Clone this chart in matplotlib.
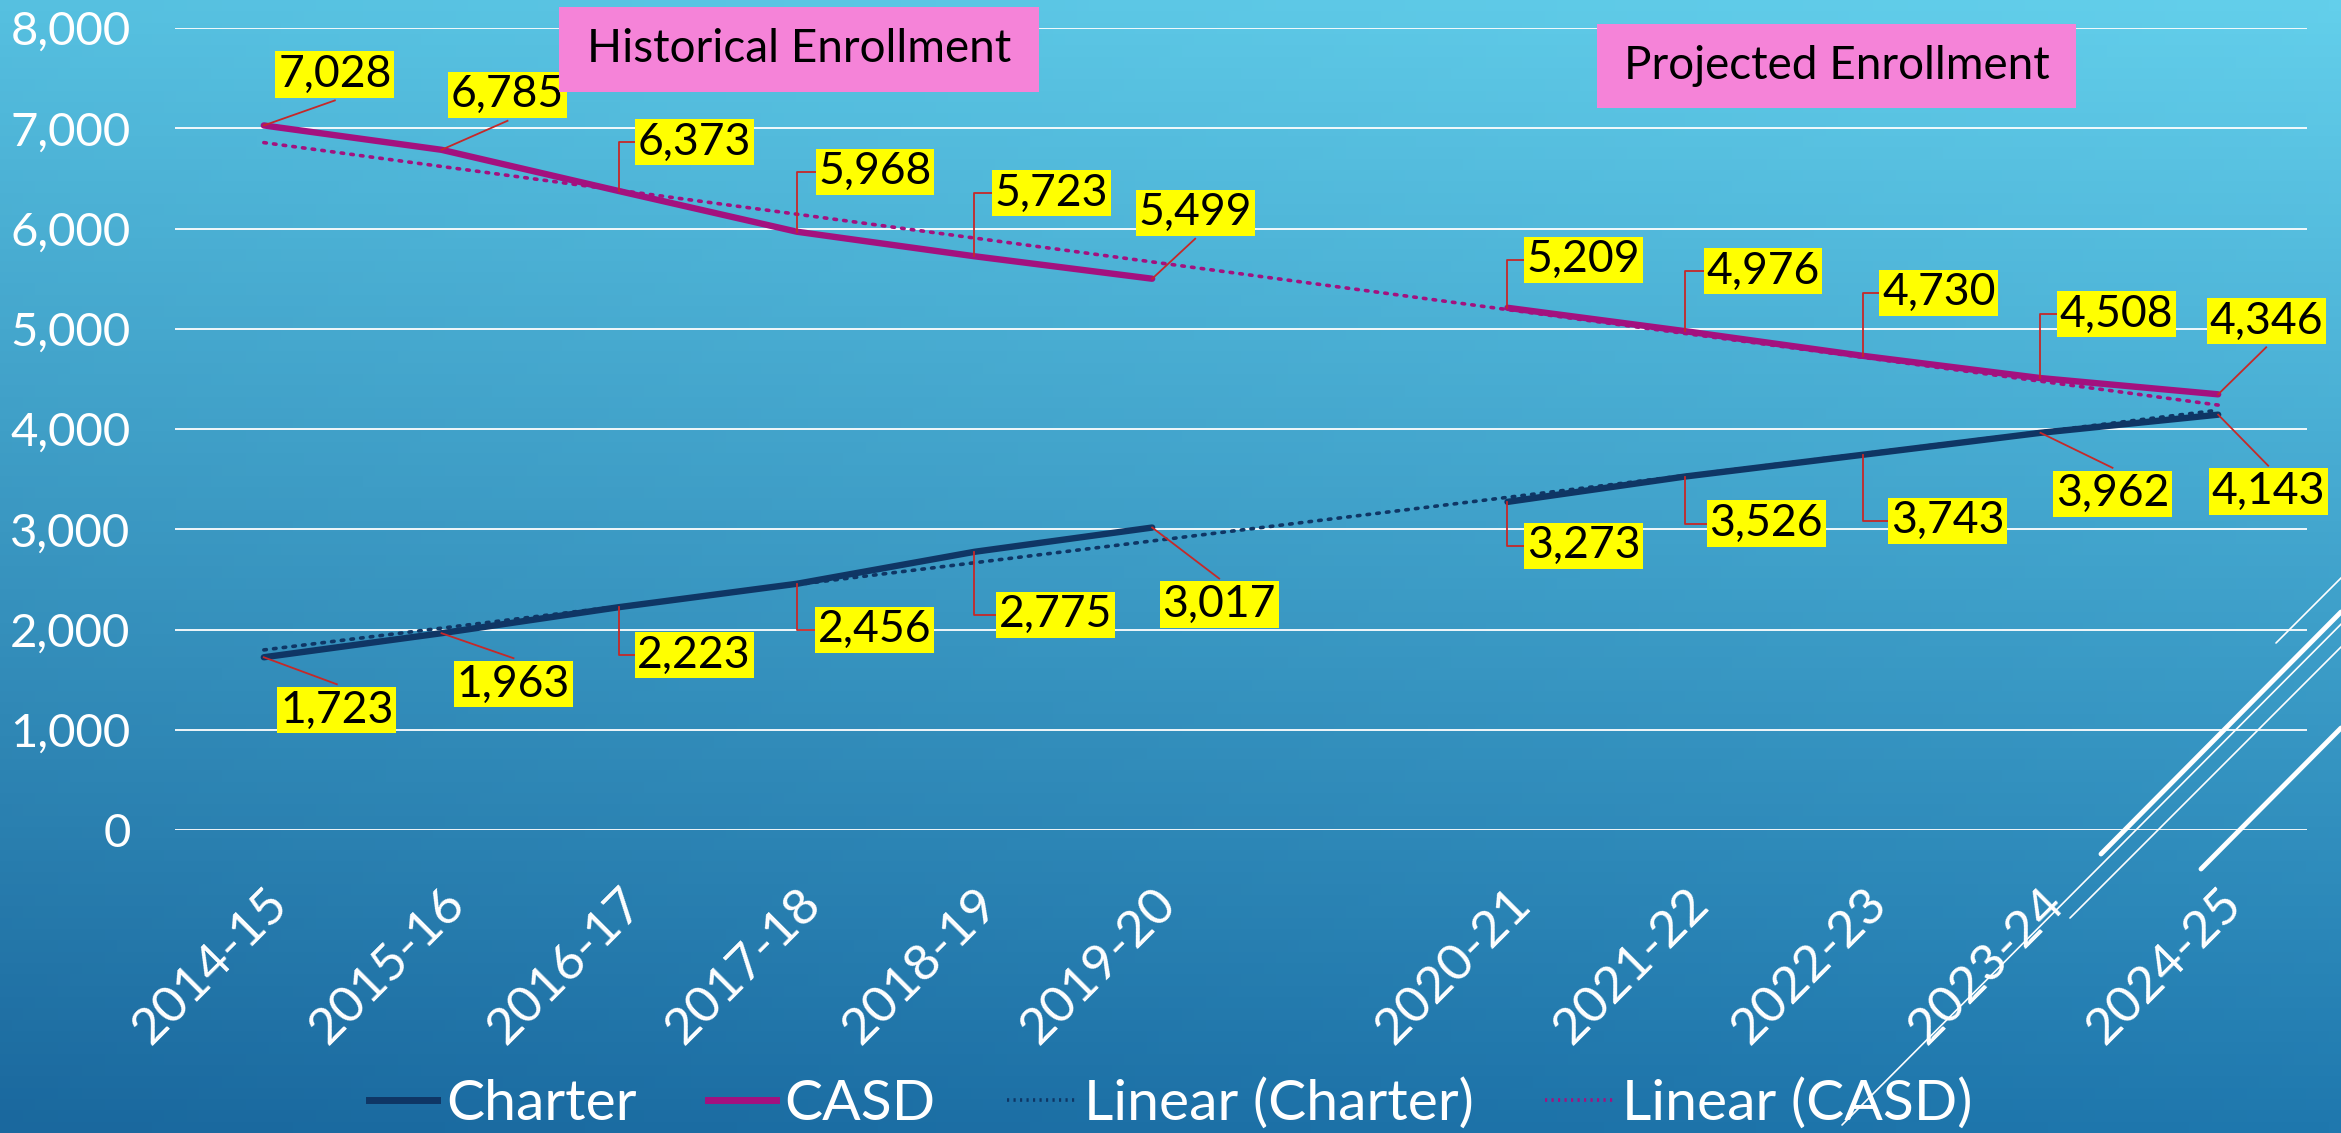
import matplotlib
import numpy as np

matplotlib.use("Agg")
import matplotlib.pyplot as plt
from matplotlib.lines import Line2D
from matplotlib.patches import Rectangle
from matplotlib import transforms

# ---- data -------------------------------------------------------------
years = ["2014-15", "2015-16", "2016-17", "2017-18", "2018-19", "2019-20",
         "", "2020-21", "2021-22", "2022-23", "2023-24", "2024-25"]
charter = [1723, 1963, 2223, 2456, 2775, 3017, np.nan,
           3273, 3526, 3743, 3962, 4143]
casd = [7028, 6785, 6373, 5968, 5723, 5499, np.nan,
        5209, 4976, 4730, 4508, 4346]
y_ticks = [0, 1000, 2000, 3000, 4000, 5000, 6000, 7000, 8000]

# ---- layout / style ---------------------------------------------------
W, H = 2341, 1133
FONT = ["Lato", "DejaVu Sans"]
C_CHARTER = "#0f3665"
C_CASD = "#a3117f"
C_LEADER = "#c62828"
C_PINK = "#f583d8"

# label offsets in pixels (dx right, dy down) and leader style
casd_offsets = [(71, -51, "s"), (66, -55, "s"), (75, -49, "e"), (78, -60, "e"),
                (77, -63, "e"), (43, -66, "s"), None, (76, -48, "e"),
                (78, -60, "e"), (76, -63, "e"), (76, -64, "e"), (48, -73, "s")]
charter_offsets = [(73, 53, "s"), (72, 51, "s"), (75, 48, "e"), (78, 46, "e"),
                   (81, 63, "e"), (67, 77, "s"), None, (76, 44, "e"),
                   (81, 47, "e"), (85, 66, "e"), (72, 61, "s"), (50, 77, "s")]

plt.rcParams["font.family"] = FONT

fig = plt.figure(figsize=(W / 100, H / 100), dpi=100)

# background gradient (four corner colours)
bg = fig.add_axes([0, 0, 1, 1], zorder=-10)
tl = np.array([86, 192, 224]) / 255
tr = np.array([99, 207, 235]) / 255
bl = np.array([26, 104, 158]) / 255
br = np.array([31, 120, 174]) / 255
u = np.linspace(0, 1, 200)[None, :, None]
v = np.linspace(0, 1, 100)[:, None, None]
grad = (1 - v) * ((1 - u) * tl + u * tr) + v * ((1 - u) * bl + u * br)
bg.imshow(grad, aspect="auto", extent=[0, 1, 0, 1], origin="upper")
bg.axis("off")

ax = fig.add_axes([175 / W, 1 - 830 / H, 2132 / W, 802 / H])
ax.set_facecolor("none")
x = np.arange(len(years))
ax.set_xlim(-0.5, len(years) - 0.5)
ax.set_ylim(0, 8000)
ax.set_yticks(y_ticks)
ax.set_yticklabels([f"{v:,}" for v in y_ticks], fontsize=34, color="white")
ax.set_xticks(x)
ax.set_xticklabels(years, fontsize=37, color="white", rotation=45,
                   ha="right", va="top", rotation_mode="anchor")
shift = transforms.ScaledTranslation(9 / 100, 0, fig.dpi_scale_trans)
for lbl in ax.get_xticklabels():
    lbl.set_transform(lbl.get_transform() + shift)
ax.tick_params(axis="y", length=0, pad=32)
ax.tick_params(axis="x", length=0, pad=36)
for s in ax.spines.values():
    s.set_visible(False)
ax.grid(True, axis="y", color="white", linewidth=1.3)
ax.set_axisbelow(True)

series = [(charter, C_CHARTER, charter_offsets), (casd, C_CASD, casd_offsets)]
for vals, col, _ in series:
    vals = np.asarray(vals, dtype=float)
    ax.plot(x, vals, color=col, linewidth=4.6, solid_capstyle="round", zorder=3)
    m = ~np.isnan(vals)
    coef = np.polyfit(x[m], vals[m], 1)
    xe = np.array([x[0], x[-1]])
    ax.plot(xe, np.polyval(coef, xe), color=col, linewidth=2.6,
            linestyle=(0, (0.7, 2.0)), dash_capstyle="round", zorder=2)

# data labels with leader lines
inv = ax.transData.inverted()
hw, hh = 53, 26
for vals, col, offs in series:
    for xi, v, off in zip(x, vals, offs):
        if off is None or np.isnan(v):
            continue
        dx, dy, kind = off
        px, py = ax.transData.transform((xi, v))
        cx, cy = px + dx, py - dy
        ax.annotate(f"{int(v):,}", xy=(xi, v), xytext=(dx, -dy),
                    textcoords="offset pixels", ha="center", va="center",
                    fontsize=32, color="black", zorder=6,
                    bbox=dict(boxstyle="square,pad=0.06", fc="#ffff00", ec="none"))
        if kind == "s":
            ey = cy - hh if dy < 0 else cy + hh
            pts = [(px, py), (cx, ey)]
        else:
            pts = [(px, py), (px, cy), (cx - hw, cy)]
        d = inv.transform(pts)
        ax.plot(d[:, 0], d[:, 1], color=C_LEADER, linewidth=1.3,
                clip_on=False, zorder=5)

# pink period boxes
for (x0, y0, x1, y1), txt in [((559, 7, 1039, 92), "Historical Enrollment"),
                              ((1597, 24, 2076, 108), "Projected Enrollment")]:
    fig.add_artist(Rectangle((x0 / W, 1 - y1 / H), (x1 - x0) / W, (y1 - y0) / H,
                             transform=fig.transFigure, fc=C_PINK, ec="none",
                             zorder=4))
    fig.text((x0 + x1) / 2 / W, 1 - (y0 + y1) / 2 / H, txt, ha="center",
             va="center", fontsize=33, color="black", zorder=5)

# legend
handles = [
    Line2D([], [], color=C_CHARTER, linewidth=5),
    Line2D([], [], color=C_CASD, linewidth=5),
    Line2D([], [], color=C_CHARTER, linewidth=2.6, linestyle=(0, (0.6, 1.2))),
    Line2D([], [], color=C_CASD, linewidth=2.6, linestyle=(0, (0.6, 1.2))),
]
leg = fig.legend(handles, ["Charter", "CASD", "Linear (Charter)", "Linear (CASD)"],
                 loc="center", bbox_to_anchor=(0.5, 1 - 1104 / H), ncol=4,
                 frameon=False, handlelength=1.2, handletextpad=0.15,
                 columnspacing=1.25, prop={"size": 41, "family": FONT})
for t in leg.get_texts():
    t.set_color("white")

# decorative theme lines (bottom right)
deco = [((2276, 643), (2400, 519), 1.2), ((2101, 854), (2341, 612), 3.5),
        ((1842, 1125), (2400, 565), 1.2), ((2070, 918), (2400, 588), 1.2),
        ((2201, 869), (2341, 728), 3.5)]
for (xa, ya), (xb, yb), lw in deco:
    fig.add_artist(Line2D([xa / W, xb / W], [1 - ya / H, 1 - yb / H],
                          transform=fig.transFigure, color="white",
                          linewidth=lw, solid_capstyle="round", zorder=8))

fig.savefig("out.png", dpi=100)
